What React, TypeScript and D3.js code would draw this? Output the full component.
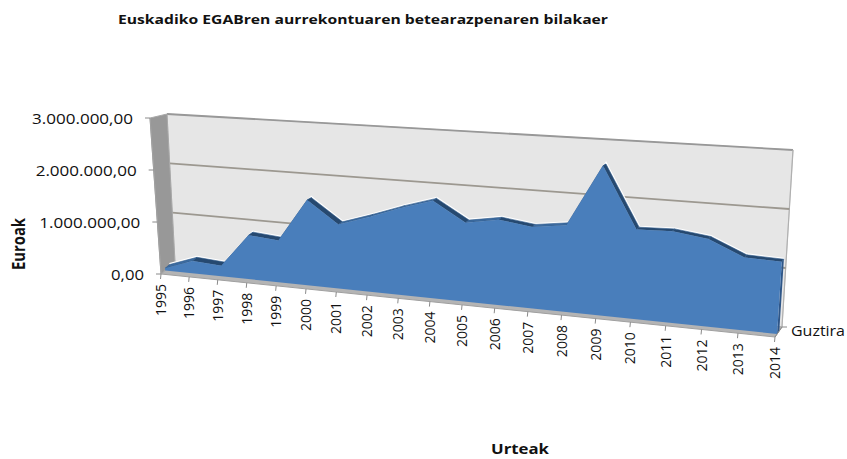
import React from "react";
import * as d3 from "d3";

const years = ["1995","1996","1997","1998","1999","2000","2001","2002","2003","2004","2005","2006","2007","2008","2009","2010","2011","2012","2013","2014"];
const totals = [0.04,0.24,0.2,0.84,0.79,1.6,1.19,1.38,1.59,1.77,1.42,1.52,1.44,1.52,2.6,1.54,1.56,1.48,1.22,1.2].map(v => v * 1e6);
const axisTicks = [0, 1e6, 2e6, 3e6];
const axisLabels = ["0,00", "1.000.000,00", "2.000.000,00", "3.000.000,00"];
const titleText = "Euskadiko EGABren aurrekontuaren betearazpenaren bilakaer";
const seriesName = "Guztira";
const yTitle = "Euroak";
const xTitle = "Urteak";

// perspective box corners: category side (L/R), value (B/T), depth (F/B)
const FBL = [161, 274], FTL = [150, 118], BBL = [175, 262], BTL = [167, 114];
const FBR = [775, 337], FTR = [787, 155], BBR = [782, 327], BTR = [793, 150];
const K = 1.155;
const catT = d3.scaleLinear().domain([0, years.length - 1]).range([0, 1]);
const persp = (i: number) => { const u = catT(i); return u / (u + K * (1 - u)); };
const valT = d3.scaleLinear().domain([0, 3e6]).range([0, 1]);
const lerp = (a: number[], b: number[], t: number) => [a[0] + (b[0] - a[0]) * t, a[1] + (b[1] - a[1]) * t];
function project(t: number, value: number, w: number) {
  const v = valT(value);
  const bl = lerp(FBL, BBL, w), tl = lerp(FTL, BTL, w), br = lerp(FBR, BBR, w), tr = lerp(FTR, BTR, w);
  return lerp(lerp(bl, tl, v), lerp(br, tr, v), t);
}
const poly = (pts: number[][]) => (d3.line()(pts as [number, number][]) ?? "") + "Z";
const line = (pts: number[][]) => d3.line()(pts as [number, number][]) ?? "";

const frontW = 0.3, backW = 0.62;

export default function App() {
  const ts = years.map((_, i) => persp(i));
  const front = totals.map((v, i) => project(ts[i], v, frontW));
  const back = totals.map((v, i) => project(ts[i], v, backW));
  const font = "'Open Sans', sans-serif";
  const backWall = [project(0, 0, 1), project(0, 3e6, 1), project(1, 3e6, 1), project(1, 0, 1)];
  const leftWall = [project(0, 0, 0), project(0, 3e6, 0), project(0, 3e6, 1), project(0, 0, 1)];
  const floor = [project(0, 0, 0), project(1, 0, 0), project(1, 0, 1), project(0, 0, 1)];
  const frontPoly = [project(0, 0, frontW), ...front, project(1, 0, frontW)];
  return (
    <svg width={847} height={459} style={{ position: "absolute", left: 0, top: 0, background: "#fff" }}>
      <defs>
        <filter id="soft" x="-5%" y="-5%" width="110%" height="110%"><feGaussianBlur stdDeviation="0.6" /></filter>
      </defs>
      <g filter="url(#soft)">
        <path d={poly(backWall)} fill="#e6e6e6" stroke="#d0d0d0" strokeWidth={1} />
        <path d={line([project(0, 3e6, 1), project(1, 3e6, 1)])} stroke="#989898" strokeWidth={1.8} fill="none" />
        <path d={line([project(1, 3e6, 1), project(1, 0, 1)])} stroke="#b0b0b0" strokeWidth={1.2} fill="none" />
        {axisTicks.slice(1, 3).map(v => (
          <path key={v} d={line([project(0, v, 1), project(1, v, 1)])} stroke="#9c9890" strokeWidth={1.8} fill="none" />
        ))}
        <path d={poly(leftWall)} fill="#989898" stroke="#a8a8a8" strokeWidth={1} />
        <path d={poly(floor)} fill="#b4b4b4" stroke="#a0a0a0" strokeWidth={1} />
        {/* white glow along the ridge */}
        <path d={line(back)} fill="none" stroke="#ffffff" strokeWidth={3} />
        {/* top face of the area */}
        {front.slice(1).map((p, i) => (
          <path key={i} d={poly([front[i], p, back[i + 1], back[i]])} fill={back[i + 1][1] > back[i][1] + 1 ? "#27496f" : "#3b6a9f"} stroke="#2f5a8c" strokeWidth={0.6} />
        ))}
        <path d={poly([project(1, 0, frontW), project(1, 0, backW), back[back.length - 1], front[front.length - 1]])} fill="#2f5688" />
        <path d={poly(frontPoly)} fill="#4a7ebb" />
      </g>
      {/* value axis */}
      <path d={line([project(0, 0, 0), project(0, 3e6, 0)])} stroke="#a0a0a0" fill="none" />
      {axisTicks.map((v, i) => {
        const p = project(0, v, 0);
        return (
          <g key={v}>
            <line x1={p[0] - 5} x2={p[0]} y1={p[1]} y2={p[1]} stroke="#8a8a8a" />
            <text x={p[0] - 17} y={p[1] + 6} textAnchor="end" fontFamily={font} fontSize={14} fill="#111"
              textLength={i === 0 ? 33 : 101} lengthAdjust="spacingAndGlyphs">{axisLabels[i]}</text>
          </g>
        );
      })}
      {/* category axis */}
      {years.map((y, i) => {
        const p = project(ts[i], 0, 0);
        return (
          <g key={y}>
            <line x1={p[0]} x2={p[0] - 0.5} y1={p[1]} y2={p[1] + 5} stroke="#8a8a8a" />
            <text transform={`translate(${p[0] + 5},${p[1] + 10}) rotate(-90)`} textAnchor="end" fontFamily={font} fontSize={14} fill="#111">{y}</text>
          </g>
        );
      })}
      {/* series axis */}
      <line x1={775} x2={782} y1={337} y2={327} stroke="#8a8a8a" />
      <line x1={782} x2={787} y1={327} y2={327} stroke="#8a8a8a" />
      <text x={791} y={336} fontFamily={font} fontSize={14} fill="#111" textLength={54} lengthAdjust="spacingAndGlyphs">{seriesName}</text>
      <text x={118} y={24} fontFamily={font} fontSize={12.6} fontWeight={700} fill="#111" textLength={490} lengthAdjust="spacingAndGlyphs">{titleText}</text>
      <text transform="translate(25,270) rotate(-90)" fontFamily={font} fontSize={17} fontWeight={700} fill="#111" textLength={52} lengthAdjust="spacingAndGlyphs">{yTitle}</text>
      <text x={491} y={454} fontFamily={font} fontSize={14} fontWeight={700} fill="#111" textLength={58} lengthAdjust="spacingAndGlyphs">{xTitle}</text>
    </svg>
  );
}
